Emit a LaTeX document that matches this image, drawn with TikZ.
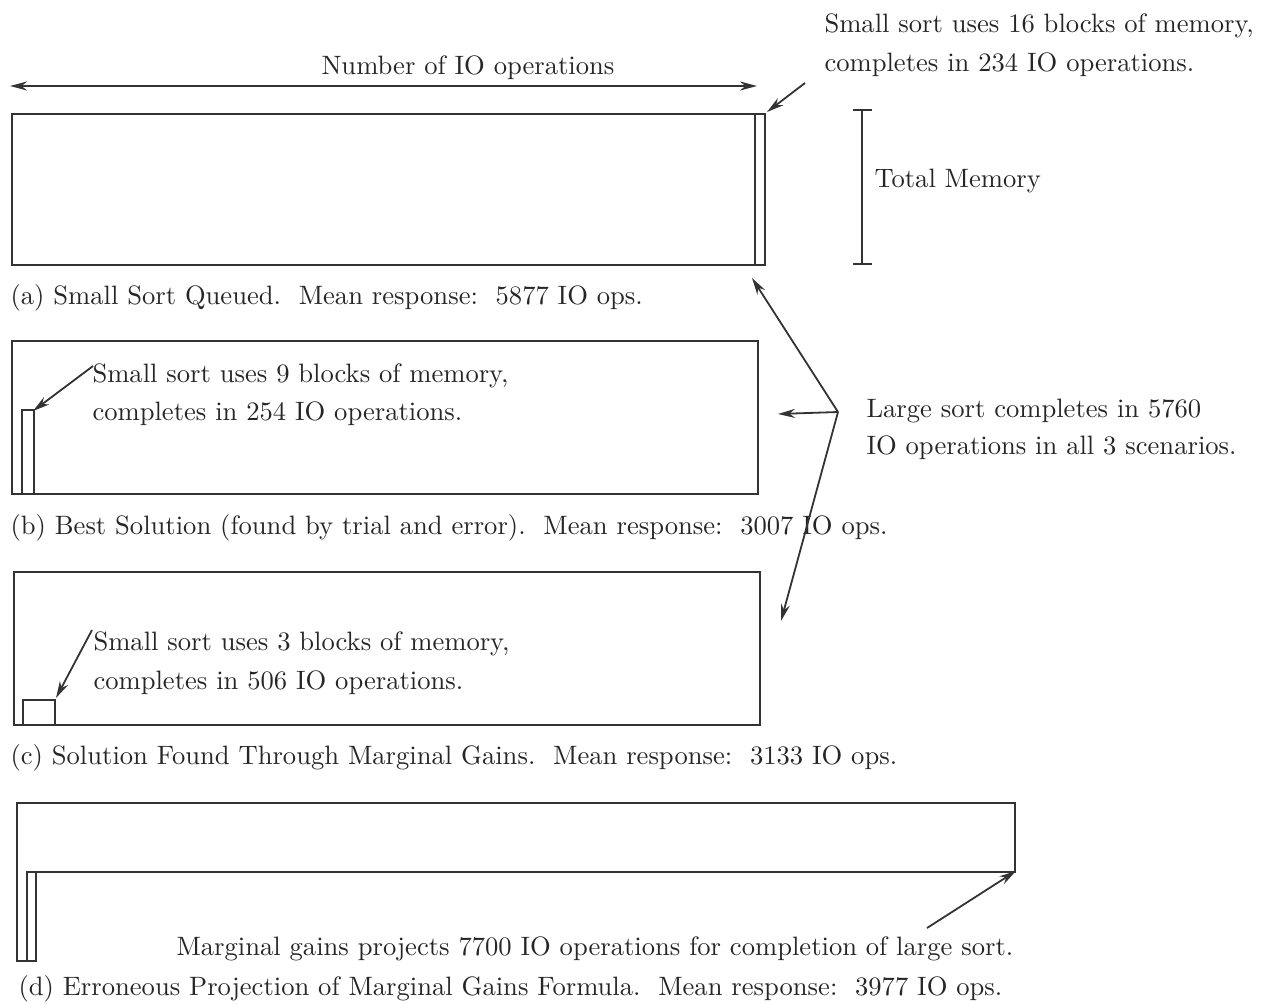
\documentclass[tikz,border=0pt]{standalone}
\usetikzlibrary{arrows.meta}
\begin{document}
\begin{tikzpicture}[x=1pt,y=-1pt,
  boxline/.style={draw=black!80,line width=2.1pt},
  pointer/.style={draw=black!80,line width=1.8pt,-{Stealth[length=17pt,width=9pt]}},
  txt/.style={anchor=base west,inner sep=0pt,text=black!85,font=\fontsize{10}{12}\selectfont,scale=2.66}]
\useasboundingbox (0,0) rectangle (1270,1004);
% width arrow
\coordinate (wl) at (10,86);
\coordinate (wr) at (757,86);
\draw[draw=black!80,line width=1.8pt,{Stealth[length=17pt,width=9pt]}-{Stealth[length=17pt,width=9pt]}] (wl) -- (wr);
\node[txt,anchor=base] (numio) at (468,74) {Number of IO operations};
% box a
\draw[boxline] (12,114) rectangle (765,265);
\draw[boxline] (755,114) -- (755,265);
\coordinate (acorner) at (767,112);
\coordinate (aarrs) at (805,83);
\draw[pointer] (aarrs) -- (acorner);
\node[txt] (a1) at (824,32) {Small sort uses 16 blocks of memory,};
\node[txt] (a2) at (824,71) {completes in 234 IO operations.};
% total memory
\coordinate (tmt) at (862,110);
\coordinate (tmb) at (862,264);
\draw[boxline] (tmt) -- (tmb);
\draw[boxline] (853,110) -- (872,110);
\draw[boxline] (853,264) -- (872,264);
\node[txt] (tm) at (874,187) {Total Memory};
\node[txt] (capa) at (10,304) {(a) Small Sort Queued.\ \ Mean response:\ \ 5877 IO ops.};
% box b
\draw[boxline] (12,341) rectangle (758,494);
\draw[boxline] (22,494) -- (22,410) -- (34,410) -- (34,494);
\coordinate (bcorner) at (33,411);
\coordinate (barrs) at (93,366);
\draw[pointer] (barrs) -- (bcorner);
\node[txt] (b1) at (92,382) {Small sort uses 9 blocks of memory,};
\node[txt] (b2) at (92,420) {completes in 254 IO operations.};
\node[txt] (capb) at (10,534) {(b) Best Solution (found by trial and error).\ \ Mean response:\ \ 3007 IO ops.};
% box c
\draw[boxline] (14,572) rectangle (760,725);
\draw[boxline] (23,725) -- (23,700) -- (55,700) -- (55,725);
\coordinate (ccorner) at (56,698);
\coordinate (carrs) at (92,630);
\draw[pointer] (carrs) -- (ccorner);
\node[txt] (c1) at (93,650) {Small sort uses 3 blocks of memory,};
\node[txt] (c2) at (93,689) {completes in 506 IO operations.};
\node[txt] (capc) at (10,764) {(c) Solution Found Through Marginal Gains.\ \ Mean response:\ \ 3133 IO ops.};
% large sort
\coordinate (apex) at (838,412);
\coordinate (ta) at (752,278);
\coordinate (tb) at (778,414);
\coordinate (tc) at (781,621);
\draw[pointer] (apex) -- (ta);
\draw[pointer] (apex) -- (tb);
\draw[pointer] (apex) -- (tc);
\node[txt] (l1) at (866,417) {Large sort completes in 5760};
\node[txt] (l2) at (866,454) {IO operations in all 3 scenarios.};
% box d
\draw[boxline] (17,961) -- (17,803) -- (1015,803) -- (1015,872) -- (27,872) -- (27,961) -- cycle;
\draw[boxline] (27,961) -- (36,961) -- (36,872);
\coordinate (dcorner) at (1016,871);
\coordinate (darrs) at (927,928);
\draw[pointer] (darrs) -- (dcorner);
\node[txt] (d1) at (176,955) {Marginal gains projects 7700 IO operations for completion of large sort.};
\node[txt] (capd) at (18,995) {(d) Erroneous Projection of Marginal Gains Formula.\ \ Mean response:\ \ 3977 IO ops.};
\end{tikzpicture}
\end{document}
